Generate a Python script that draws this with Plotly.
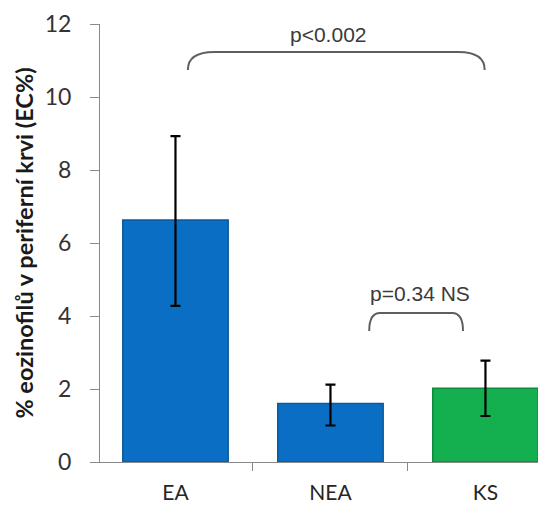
import plotly.graph_objects as go

categories = ["EA", "NEA", "KS"]
values = [6.63, 1.6, 2.02]
err_plus = [2.3, 0.52, 0.76]
err_minus = [2.35, 0.6, 0.76]
bar_colors = ["#0A6FC4", "#0A6FC4", "#14B050"]
bar_edges = ["#0B5A9C", "#0B5A9C", "#0E8A3E"]
y_ticks = [0, 2, 4, 6, 8, 10, 12]

x_pos = list(range(len(categories)))

fig = go.Figure()
fig.add_trace(go.Bar(
    x=x_pos, y=values, width=0.68,
    marker=dict(color=bar_colors, line=dict(color=bar_edges, width=1.5)),
    error_y=dict(type="data", symmetric=False, array=err_plus, arrayminus=err_minus,
                 color="black", thickness=2.2, width=5),
    showlegend=False, hoverinfo="skip",
))

line_style = dict(color="#5f5f5f", width=2)
# big bracket EA-KS
bx0, bx1, by0, by1, dx = 0.08, 1.995, 10.74, 11.23, 0.17
fig.add_shape(type="path", xref="x", yref="y", line=line_style,
              path=f"M {bx0},{by0} Q {bx0},{by1} {bx0+dx},{by1} L {bx1-dx},{by1} Q {bx1},{by1} {bx1},{by0}")
# small bracket NEA-KS
sx0, sx1, sy0, sy1, sdx = 1.25, 1.855, 3.59, 4.08, 0.07
fig.add_shape(type="path", xref="x", yref="y", line=line_style,
              path=f"M {sx0},{sy0} Q {sx0},{sy1} {sx0+sdx},{sy1} L {sx1-sdx},{sy1} Q {sx1},{sy1} {sx1},{sy0}")

ann_font = dict(family="Liberation Sans", size=21, color="#3a3a3a")
fig.add_annotation(x=0.99, y=11.71, xref="x", yref="y", text="p<0.002",
                   showarrow=False, font=ann_font, yanchor="middle")
fig.add_annotation(x=1.577, y=4.63, xref="x", yref="y", text="p=0.34 NS",
                   showarrow=False, font=ann_font, yanchor="middle")

fig.update_layout(
    width=538, height=506,
    margin=dict(l=100, r=0, t=24, b=44, autoexpand=False),
    paper_bgcolor="white", plot_bgcolor="white",
    font=dict(family="Lato", color="#262626"),
    xaxis=dict(
        range=[-0.487, 2.339], tickvals=x_pos, ticktext=categories,
        ticks="", showline=True, linecolor="#8a8a8a", linewidth=1,
        tickfont=dict(size=21, color="#262626"), showgrid=False, zeroline=False,
        minor=dict(tickvals=[-0.5, 0.5, 1.5, 2.5], ticks="outside", ticklen=8,
                   tickcolor="#8a8a8a", showgrid=False),
        ticklabelstandoff=12, fixedrange=True, automargin=False,
    ),
    yaxis=dict(
        range=[0, 12], tickvals=y_ticks, ticks="outside", ticklen=9,
        tickcolor="#8a8a8a", showline=True, linecolor="#8a8a8a", linewidth=1,
        showgrid=False, zeroline=False, automargin=False,
        tickfont=dict(size=23, color="#333333"), ticklabelstandoff=14,
        title=dict(text="<b>% eozinofilů v periferní krvi (EC%)</b>",
                   font=dict(size=23.5, color="#1a1a1a"), standoff=4),
    ),
)

fig.write_html("out.html", config={"displayModeBar": False},
               post_script="document.body.style.margin='0';")
